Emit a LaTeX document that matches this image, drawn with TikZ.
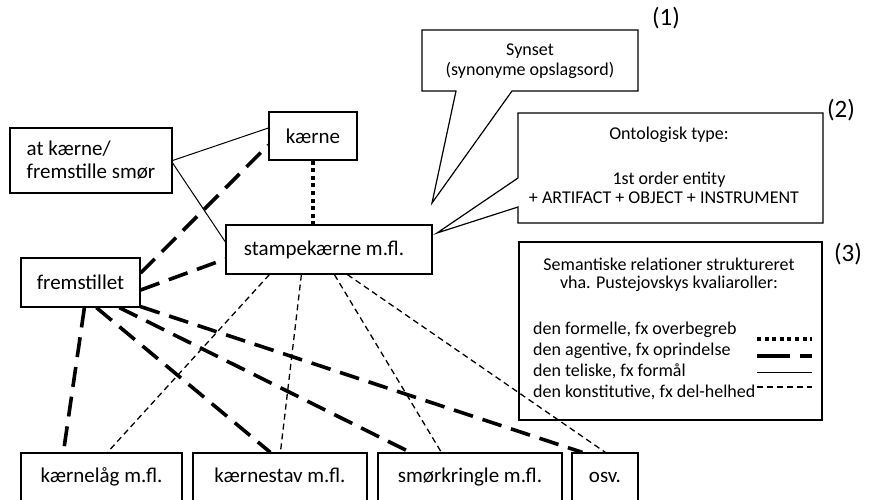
\documentclass[tikz,border=0pt]{standalone}
\usepackage{fontspec}
\setmainfont{Carlito}
\begin{document}
\begin{tikzpicture}[x=1pt,y=-1pt,
  box/.style={draw, line width=1.2pt, fill=white, inner sep=0pt, font=\fontsize{21}{23}\selectfont},
  bot/.style={box, text height=15pt, text depth=5pt, minimum height=48pt},
  lbl/.style={inner sep=0pt, font=\fontsize{18}{21}\selectfont},
  num/.style={inner sep=0pt, font=\fontsize{25}{28}\selectfont},
  telic/.style={line width=1pt},
  agent/.style={line width=3.6pt, dash pattern=on 20pt off 10pt},
  formal/.style={line width=4pt, dash pattern=on 4pt off 3.6pt},
  constit/.style={line width=1.3pt, dash pattern=on 6pt off 4pt},
  callout/.style={draw, line width=1.2pt, fill=white, line join=miter}]
\useasboundingbox (0,0) rectangle (871,499);
\fill[white] (0,0) rectangle (871,499);

% callouts
\draw[callout] (422,30) -- (638,30) -- (638,91) -- (512,91) -- (432,203) -- (456,91) -- (422,91) -- cycle;
\node[lbl] (syn1) at (530,51) {Synset};
\node[lbl] (syn2) at (530,70) {(synonyme opslagsord)};
\draw[callout] (518,113) -- (823,113) -- (823,223) -- (518,223) -- (518,207) -- (437,233) -- (518,178) -- cycle;
\node[lbl] (ont1) at (669,135) {Ontologisk type:};
\node[lbl] (ont2) at (669,180) {1st order entity};
\node[lbl] (ont3) at (664,198) {+ ARTIFACT + OBJECT + INSTRUMENT};
\node[num] (n1) at (666,18) {(1)};
\node[num] (n2) at (841,110) {(2)};
\node[num] (n3) at (848,254) {(3)};

% legend
\node[draw, line width=1.2pt, minimum width=303pt, minimum height=178pt, inner sep=0pt] (leg) at (670.5,331) {};
\node[lbl] (lt1) at (669,264) {Semantiske relationer struktureret};
\node[lbl] (lt2) at (669,284) {vha. Pustejovskys kvaliaroller:};
\node[lbl, anchor=west] (l1) at (533,330) {den formelle, fx overbegreb};
\node[lbl, anchor=west] (l2) at (533,351) {den agentive, fx oprindelse};
\node[lbl, anchor=west] (l3) at (533,371) {den teliske, fx formål};
\node[lbl, anchor=west] (l4) at (533,392) {den konstitutive, fx del-helhed};
\coordinate (s1a) at (757,339); \coordinate (s1b) at (812,339);
\coordinate (s2a) at (757,356); \coordinate (s2b) at (812,356);
\coordinate (s3a) at (757,372); \coordinate (s3b) at (812,372);
\coordinate (s4a) at (757,387); \coordinate (s4b) at (812,387);
\draw[formal] (s1a) -- (s1b);
\draw[line width=3.6pt, dash pattern=on 33pt off 10pt] (s2a) -- (s2b);
\draw[telic] (s3a) -- (s3b);
\draw[constit] (s4a) -- (s4b);

% main boxes
\node[box, minimum width=162pt, minimum height=65pt, align=left] (atk) at (91,160.5) {at kærne/\\fremstille smør};
\node[box, minimum width=88pt, minimum height=48pt] (kaerne) at (313,136) {kærne};
\node[box, minimum width=206pt, minimum height=49pt] (stampe) at (329,249.5) {stampekærne m.fl.\hspace*{10pt}};
\node[box, minimum width=119pt, minimum height=49pt] (frem) at (80.5,282.5) {fremstillet};
\node[bot, minimum width=161pt] (kl) at (101.5,477) {kærnelåg m.fl.};
\node[bot, minimum width=174pt] (ks) at (280,477) {kærnestav m.fl.};
\node[bot, minimum width=184pt] (sm) at (470,477) {smørkringle m.fl.};
\node[bot, minimum width=66pt] (osv) at (605,477) {osv.};

% connectors
\draw[telic] (atk.east) -- ([yshift=8pt]kaerne.west);
\draw[telic] ([yshift=-2.5pt]atk.east) -- ([yshift=7.5pt]stampe.west);
\draw[formal] (kaerne.south) -- (kaerne.south |- stampe.north);
\draw[agent] ([yshift=9.5pt]frem.east) -- ([yshift=-9pt]kaerne.west);
\draw[agent] ([yshift=-7.5pt]frem.east) -- ([yshift=-9.5pt]stampe.west);
\draw[agent] ([xshift=64pt]frem.south west) -- ([xshift=43pt]kl.north west);
\draw[agent] ([xshift=76pt]frem.south west) -- ([xshift=78pt]ks.north west);
\draw[agent] ([xshift=99pt]frem.south west) -- ([xshift=33pt]sm.north west);
\draw[agent] ([yshift=1pt]frem.south east) -- ([xshift=11pt]osv.north west);
\draw[constit] ([xshift=44pt]stampe.south west) -- ([xshift=87pt]kl.north west);
\draw[constit] ([xshift=76pt]stampe.south west) -- ([xshift=88pt]ks.north west);
\draw[constit] ([xshift=109pt]stampe.south west) -- ([xshift=64pt]sm.north west);
\draw[constit] ([xshift=122pt]stampe.south west) -- ([xshift=34pt]osv.north west);
\end{tikzpicture}
\end{document}
